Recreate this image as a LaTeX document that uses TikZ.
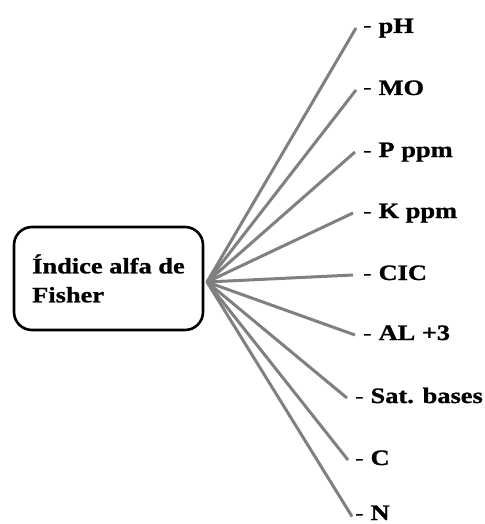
\documentclass[tikz,border=0pt]{standalone}
\usepackage{fontspec}
\setmainfont[FakeStretch=1.2, BoldFeatures={FakeBold=1}]{Liberation Serif}
\begin{document}
\begin{tikzpicture}[x=1pt,y=-1pt,
  conn/.style={draw=gray, line width=3pt},
  lbl/.style={anchor=base west, inner sep=0pt, font=\fontsize{22}{29}\selectfont\bfseries, text height=15pt, text depth=5pt},
  rootbox/.style={draw=black, line width=2.6pt, rounded corners=18pt, minimum width=189pt, minimum height=103pt, align=left, inner sep=0pt, font=\fontsize{22}{29}\selectfont\bfseries}
]
\clip (0,0) rectangle (484,524);
\fill[white] (0,0) rectangle (484,524);
\node[rootbox] (box) at (108.5,278.5) {Índice alfa de\\Fisher};
\coordinate (hub) at (207,282);
\node[lbl] (pH)  at (363,33)  {{\mdseries -} pH};
\node[lbl] (MO)  at (363,95)  {{\mdseries -} MO};
\node[lbl] (P)   at (363,157) {{\mdseries -} P ppm};
\node[lbl] (K)   at (363,218) {{\mdseries -} K ppm};
\node[lbl] (CIC) at (363,280) {{\mdseries -} CIC};
\node[lbl] (AL)  at (363,340) {{\mdseries -} AL +3};
\node[lbl] (Sat) at (355,403) {{\mdseries -} Sat. bases};
\node[lbl] (C)   at (355,465) {{\mdseries -} C};
\node[lbl, text depth=0pt] (N) at (355,520) {{\mdseries -} N};
\draw[conn] (hub) -- ([xshift=-7pt]pH.west);
\draw[conn] (hub) -- ([xshift=-7pt]MO.west);
\draw[conn] (hub) -- ([xshift=-8pt]P.west);
\draw[conn] (hub) -- ([xshift=-10pt]K.west);
\draw[conn] (hub) -- ([xshift=-10pt]CIC.west);
\draw[conn] (hub) -- ([xshift=-8pt]AL.west);
\draw[conn] (hub) -- ([xshift=-8pt]Sat.west);
\draw[conn] (hub) -- ([xshift=-7pt]C.west);
\draw[conn] (hub) -- ([xshift=-3pt,yshift=-4pt]N.west);
\end{tikzpicture}
\end{document}
